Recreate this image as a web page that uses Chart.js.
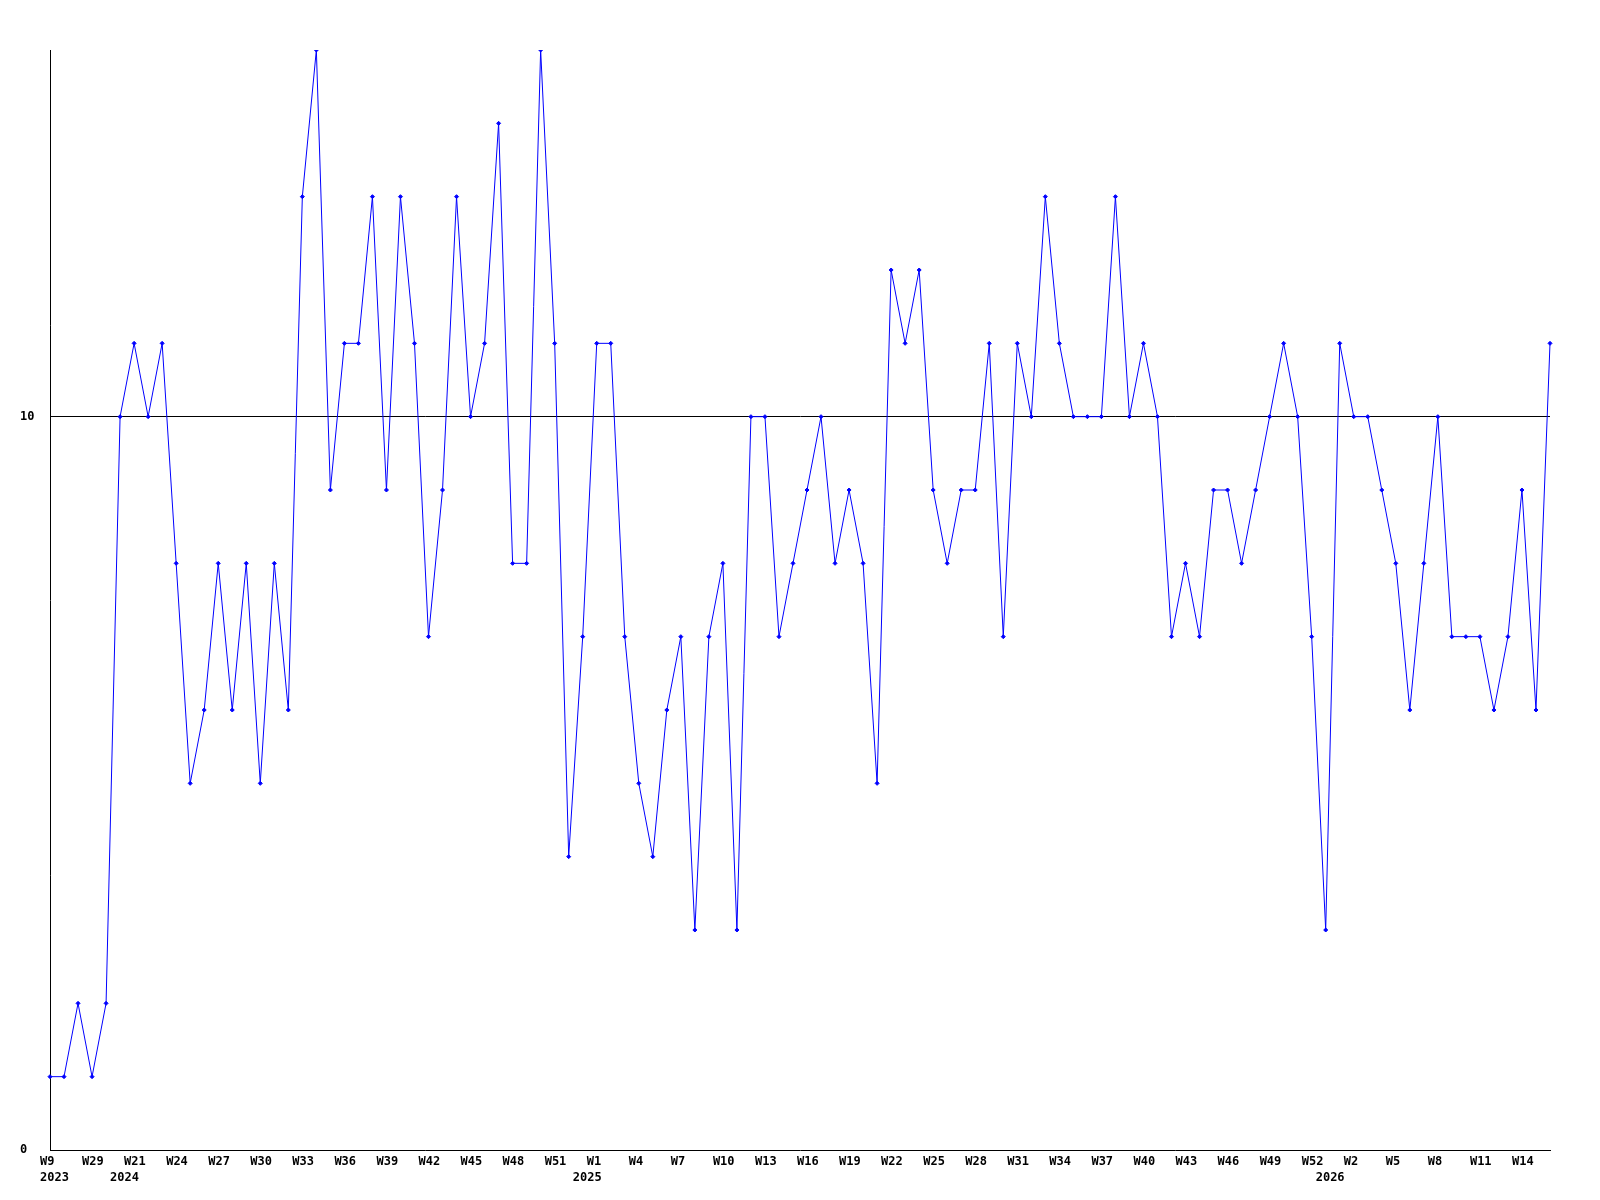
<!DOCTYPE html>
<html>
<head>
<meta charset="utf-8">
<script src="https://cdn.jsdelivr.net/npm/chart.js@4.4.1/dist/chart.umd.min.js"></script>
<style>
  body { margin: 0; background: #fff; }
  canvas { display: block; }
</style>
</head>
<body>
<canvas id="chart" width="1600" height="1200"></canvas>
<script>
// one value per week, 108 weeks
const values = [
  1, 1, 2, 1, 2, 10, 11, 10, 11, 8,
  5, 6, 8, 6, 8, 5, 8, 6, 13, 15,
  9, 11, 11, 13, 9, 13, 11, 7, 9, 13,
  10, 11, 14, 8, 8, 15, 11, 4, 7, 11,
  11, 7, 5, 4, 6, 7, 3, 7, 8, 3,
  10, 10, 7, 8, 9, 10, 8, 9, 8, 5,
  12, 11, 12, 9, 8, 9, 9, 11, 7, 11,
  10, 13, 11, 10, 10, 10, 13, 10, 11, 10,
  7, 8, 7, 9, 9, 8, 9, 10, 11, 10,
  7, 3, 11, 10, 10, 9, 8, 6, 8, 10,
  7, 7, 7, 6, 7, 9, 6, 11
];

// week labels, shown on every 3rd point
const weekTicks = ['W9', 'W29', 'W21', 'W24', 'W27', 'W30', 'W33', 'W36', 'W39', 'W42',
  'W45', 'W48', 'W51', 'W1', 'W4', 'W7', 'W10', 'W13', 'W16', 'W19',
  'W22', 'W25', 'W28', 'W31', 'W34', 'W37', 'W40', 'W43', 'W46', 'W49',
  'W52', 'W2', 'W5', 'W8', 'W11', 'W14'];

// year labels and the point where each year starts
const years = ['2023', '2024', '2025', '2026'];
const yearStart = [0, 5, 38, 91];

const yTicks = [0, 10];

const weekLabels = values.map((v, i) => i % 3 === 0 ? (weekTicks[i / 3] || '') : '');
const yearLabels = values.map((v, i) => {
    const k = yearStart.indexOf(i);
    return k >= 0 ? years[k] : '';
});

const tickFont = { family: 'DejaVu Sans Mono', size: 12, weight: 'bold' };

new Chart(document.getElementById('chart'), {
    type: 'line',
    data: {
        labels: weekLabels,
        datasets: [{
            data: values,
            xAxisID: 'x',
            borderColor: '#0000ff',
            backgroundColor: '#0000ff',
            borderWidth: 1,
            tension: 0,
            pointStyle: 'rectRot',
            pointRadius: 2,
            pointBorderWidth: 1
        }]
    },
    options: {
        responsive: false,
        animation: false,
        layout: { padding: { left: 20, top: 50, right: 50, bottom: 14 } },
        plugins: { legend: { display: false }, tooltip: { enabled: false } },
        scales: {
            x: {
                type: 'category',
                offset: false,
                grid: { display: false, drawTicks: false },
                border: { display: true, color: '#000', width: 1 },
                ticks: {
                    autoSkip: false, maxRotation: 0, minRotation: 0,
                    align: 'start', labelOffset: -10, padding: 5,
                    color: '#000', font: tickFont
                },
                afterFit: s => { s.height = 20; }
            },
            x2: {
                type: 'category',
                position: 'bottom',
                labels: yearLabels,
                offset: false,
                grid: { display: false, drawTicks: false },
                border: { display: false },
                ticks: {
                    autoSkip: false, maxRotation: 0, minRotation: 0,
                    align: 'start', labelOffset: -10, padding: 1,
                    color: '#000', font: tickFont
                },
                afterFit: s => { s.height = 16; }
            },
            y: {
                min: 0,
                max: 15,
                afterBuildTicks: s => { s.ticks = yTicks.map(v => ({ value: v })); },
                grid: {
                    drawTicks: false,
                    color: c => c.tick && c.tick.value === 10 ? '#000' : 'rgba(0,0,0,0)',
                    lineWidth: 1
                },
                border: { display: true, color: '#000', width: 1 },
                ticks: {
                    crossAlign: 'far', padding: 4,
                    color: '#000', font: tickFont
                },
                afterFit: s => { s.width = 30; }
            }
        }
    }
});
</script>
</body>
</html>
